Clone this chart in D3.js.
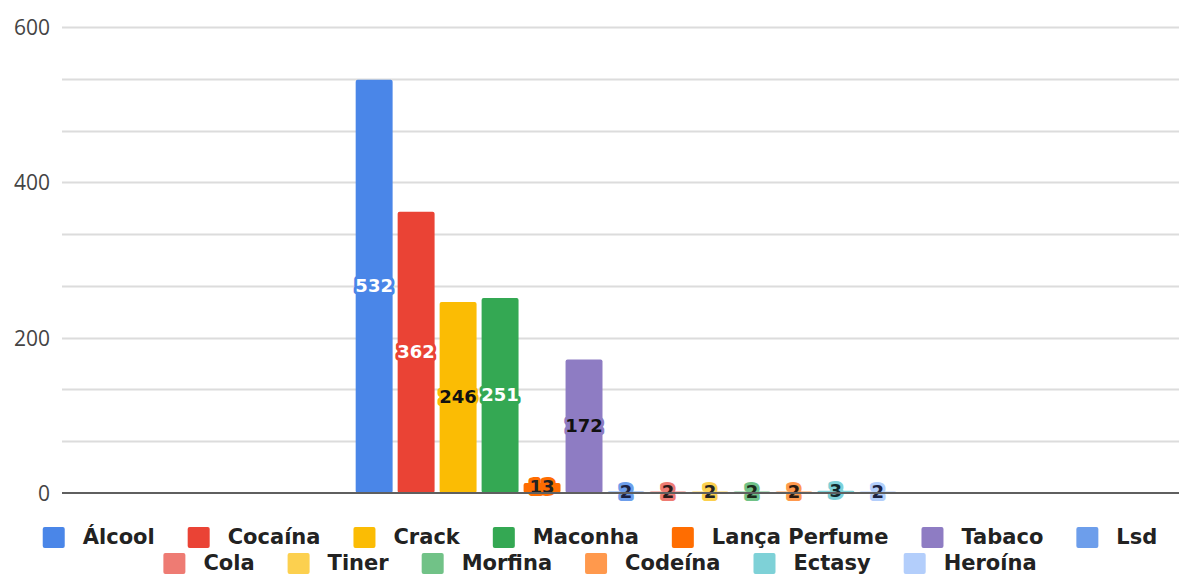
<!DOCTYPE html>
<html>
<head>
<meta charset="utf-8">
<script src="https://cdn.jsdelivr.net/npm/d3@7"></script>
<style>
  body { margin: 0; background: #fff; }
  svg { display: block; }
</style>
</head>
<body>
<svg id="chart" width="1179" height="574"></svg>
<script>
// data
var drugs = ["Álcool", "Cocaína", "Crack", "Maconha", "Lança Perfume", "Tabaco", "Lsd",
             "Cola", "Tiner", "Morfina", "Codeína", "Ectasy", "Heroína"];
var counts = [532, 362, 246, 251, 13, 172, 2, 2, 2, 2, 2, 3, 2];
var colors = ["#4a86e8", "#ea4335", "#fbbc04", "#34a853", "#ff6d01", "#8e7cc3", "#6d9eeb",
              "#ee7b73", "#fcd04f", "#71c287", "#ff994d", "#7ed1d7", "#b3cefb"];
var labelInk = ["#fff", "#fff", "#111", "#fff", "#222", "#111", "#1b2140",
                "#2a1a1a", "#222", "#1b2a1b", "#2a1a10", "#10282a", "#1b2140"];
var yTicks = [0, 200, 400, 600];
var legendRows = [7, 6];

var svg = d3.select("#chart");
var width = 1179, height = 574;
var plotLeft = 62, plotRight = 1190, plotTop = 27, plotBottom = 493;

// scales
var outer = d3.scaleBand().domain(["all"]).range([plotLeft, plotRight]).padding(0.352);
var xScale = d3.scaleBand().domain(drugs).range([0, outer.bandwidth()]).paddingInner(0.12).paddingOuter(0);
var yScale = d3.scaleLinear().domain([0, 600]).range([plotBottom, plotTop]);
var color = d3.scaleOrdinal().domain(drugs).range(colors);

// gridlines (every 200/3)
var grid = d3.range(0, 601, 200 / 3).slice(1);
svg.append("g").attr("class", "grid")
    .selectAll("line")
    .data(grid)
    .enter().append("line")
    .attr("x1", plotLeft).attr("x2", width)
    .attr("y1", d => Math.round(yScale(d)) + 0.5)
    .attr("y2", d => Math.round(yScale(d)) + 0.5)
    .style("stroke", "#dcdcdc")
    .style("stroke-width", 2);

// y axis labels
var yAxis = d3.axisLeft(yScale).tickValues(yTicks).tickSize(0).tickPadding(0);
var yg = svg.append("g")
    .attr("transform", "translate(50,0)")
    .call(yAxis);
yg.select(".domain").remove();
yg.selectAll("text")
    .style("font-family", "'Open Sans', sans-serif")
    .style("font-size", "21px")
    .style("fill", "#444")
    .attr("dy", "0.36em");

// bars
var bars = svg.append("g").attr("transform", "translate(" + outer("all") + ",0)");
bars.selectAll(".bar")
    .data(drugs)
    .enter().append("rect")
    .attr("class", "bar")
    .attr("x", (d) => xScale(d))
    .attr("y", (d, i) => yScale(counts[i]))
    .attr("width", xScale.bandwidth())
    .attr("height", (d, i) => yScale(0) - yScale(counts[i]))
    .attr("rx", 2)
    .style("fill", d => color(d));

// baseline
svg.append("line")
    .attr("x1", plotLeft).attr("x2", width)
    .attr("y1", yScale(0)).attr("y2", yScale(0))
    .style("stroke", "#5f5f5f")
    .style("stroke-width", 2);

// data labels with halo in series colour
bars.selectAll(".lbl")
    .data(drugs)
    .enter().append("text")
    .attr("class", "lbl")
    .attr("x", d => xScale(d) + xScale.bandwidth() / 2)
    .attr("y", (d, i) => (yScale(counts[i]) + yScale(0)) / 2 - 1)
    .attr("dy", "0.36em")
    .style("text-anchor", "middle")
    .style("font-family", "'DejaVu Sans', sans-serif")
    .style("font-weight", "bold")
    .style("font-size", "18px")
    .style("fill", (d, i) => labelInk[i])
    .style("stroke", d => color(d))
    .style("stroke-width", 6)
    .style("stroke-linejoin", "round")
    .style("paint-order", "stroke")
    .text((d, i) => counts[i]);

// legend
var legend = svg.append("g").attr("class", "legend");
var start = 0;
legendRows.forEach(function(n, r) {
    var items = drugs.slice(start, start + n);
    var row = legend.append("g");
    var x = 0;
    items.forEach(function(d) {
        var g = row.append("g").attr("transform", "translate(" + x + ",0)");
        g.append("rect")
            .attr("x", 0).attr("y", -17)
            .attr("width", 22).attr("height", 21)
            .attr("rx", 2)
            .style("fill", color(d));
        var t = g.append("text")
            .attr("x", 40).attr("y", 0)
            .style("font-family", "'DejaVu Sans', sans-serif")
            .style("font-weight", "bold")
            .style("font-size", "21px")
            .style("fill", "#222")
            .text(d);
        x += 40 + t.node().getComputedTextLength() + 33;
    });
    var w = x - 33;
    row.attr("transform", "translate(" + (600 - w / 2) + "," + (544 + r * 26) + ")");
    start += n;
});
</script>
</body>
</html>
